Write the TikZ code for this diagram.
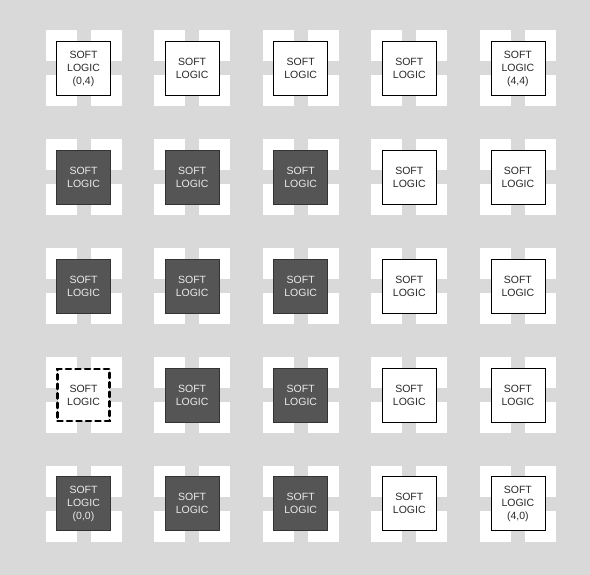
\documentclass[tikz,border=0pt]{standalone}
\usepackage{fontspec}
\setmainfont{Liberation Sans}
\definecolor{bg}{RGB}{217,217,217}
\definecolor{darkfill}{RGB}{85,85,85}
\definecolor{lighttext}{RGB}{235,235,235}
\definecolor{darktext}{RGB}{40,40,40}
\begin{document}
\begin{tikzpicture}[x=1pt,y=-1pt,
  lightblk/.style={draw=black,line width=0.8pt,fill=white,minimum width=54pt,minimum height=54pt,inner sep=0pt,align=center,text=darktext,font=\fontsize{10.5}{13}\selectfont},
  darkblk/.style={draw=black!80,line width=0.8pt,fill=darkfill,minimum width=54pt,minimum height=54pt,inner sep=0pt,align=center,text=lighttext,font=\fontsize{10.5}{13}\selectfont},
  dashblk/.style={draw=black,line width=2.8pt,dash pattern=on 5pt off 4.5pt,line cap=round,fill=white,minimum width=52pt,minimum height=52pt,inner sep=0pt,align=center,text=darktext,font=\fontsize{10.5}{13}\selectfont}]
\fill[bg] (0,0) rectangle (590,575);
\useasboundingbox (0,0) rectangle (590,575);
% white cross backgrounds
\foreach \i in {0,...,4}{
  \foreach \j in {0,...,4}{
    \pgfmathsetmacro{\cx}{83.5+108.6*\i}
    \pgfmathsetmacro{\cy}{68.5+108.8*\j}
    \fill[white] (\cx-38,\cy-38) rectangle (\cx-7,\cy-7);
    \fill[white] (\cx+7,\cy-38) rectangle (\cx+38,\cy-7);
    \fill[white] (\cx-38,\cy+7) rectangle (\cx-7,\cy+38);
    \fill[white] (\cx+7,\cy+7) rectangle (\cx+38,\cy+38);
  }
}
% row 1
\node[lightblk] (n04) at (83.5,68.5) {SOFT\\LOGIC\\(0,4)};
\node[lightblk] (n14) at (192.1,68.5) {SOFT\\LOGIC};
\node[lightblk] (n24) at (300.7,68.5) {SOFT\\LOGIC};
\node[lightblk] (n34) at (409.3,68.5) {SOFT\\LOGIC};
\node[lightblk] (n44) at (517.9,68.5) {SOFT\\LOGIC\\(4,4)};
% row 2
\node[darkblk] (n03) at (83.5,177.3) {SOFT\\LOGIC};
\node[darkblk] (n13) at (192.1,177.3) {SOFT\\LOGIC};
\node[darkblk] (n23) at (300.7,177.3) {SOFT\\LOGIC};
\node[lightblk] (n33) at (409.3,177.3) {SOFT\\LOGIC};
\node[lightblk] (n43) at (517.9,177.3) {SOFT\\LOGIC};
% row 3
\node[darkblk] (n02) at (83.5,286.1) {SOFT\\LOGIC};
\node[darkblk] (n12) at (192.1,286.1) {SOFT\\LOGIC};
\node[darkblk] (n22) at (300.7,286.1) {SOFT\\LOGIC};
\node[lightblk] (n32) at (409.3,286.1) {SOFT\\LOGIC};
\node[lightblk] (n42) at (517.9,286.1) {SOFT\\LOGIC};
% row 4
\node[dashblk] (n01) at (83.5,394.9) {SOFT\\LOGIC};
\node[darkblk] (n11) at (192.1,394.9) {SOFT\\LOGIC};
\node[darkblk] (n21) at (300.7,394.9) {SOFT\\LOGIC};
\node[lightblk] (n31) at (409.3,394.9) {SOFT\\LOGIC};
\node[lightblk] (n41) at (517.9,394.9) {SOFT\\LOGIC};
% row 5
\node[darkblk] (n00) at (83.5,503.7) {SOFT\\LOGIC\\(0,0)};
\node[darkblk] (n10) at (192.1,503.7) {SOFT\\LOGIC};
\node[darkblk] (n20) at (300.7,503.7) {SOFT\\LOGIC};
\node[lightblk] (n30) at (409.3,503.7) {SOFT\\LOGIC};
\node[lightblk] (n40) at (517.9,503.7) {SOFT\\LOGIC\\(4,0)};
\end{tikzpicture}
\end{document}
